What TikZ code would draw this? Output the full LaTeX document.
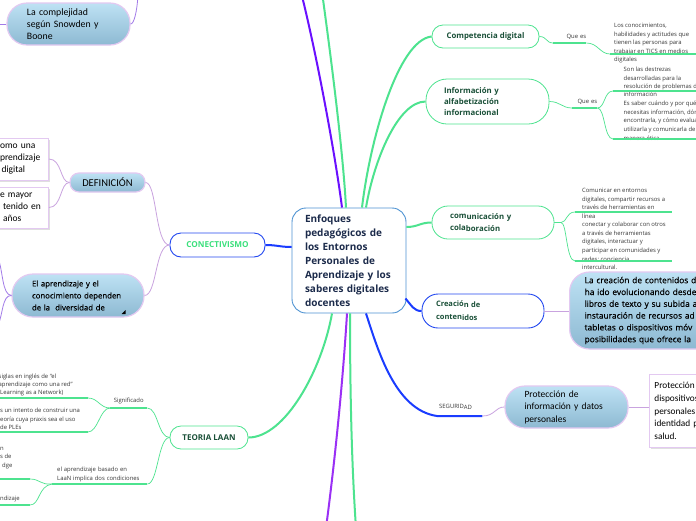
\documentclass[tikz,border=0pt]{standalone}
\usepackage{fontspec}
\setmainfont{Open Sans}
\newfontfamily\carl{Carlito}
\newfontfamily\osf[FakeBold=0.3]{Open Sans}
\usetikzlibrary{calc,shadows}
\definecolor{grn}{HTML}{4DE38F}
\definecolor{dkg}{HTML}{1A5038}
\definecolor{vio}{HTML}{6A10FF}
\definecolor{vio2}{HTML}{9A30F5}
\definecolor{blu}{HTML}{1A3CFF}
\definecolor{lpur}{HTML}{C9A3DF}
\definecolor{mpur}{HTML}{A27BE8}
\definecolor{lbord}{HTML}{E3C9F1}
\definecolor{ctb}{HTML}{4F93D2}
\definecolor{ctxt}{HTML}{1C2B4B}
\definecolor{lbtop}{HTML}{BEE2F4}
\definecolor{lbbot}{HTML}{8DB9D2}
\definecolor{tiny}{HTML}{383838}
\definecolor{cong}{HTML}{3BE07C}
\definecolor{bbord}{HTML}{2247F0}
\tikzset{
  cnode/.style={draw=ctb, line width=0.9pt, fill=white, rounded corners=14pt, text=ctxt,
    font=\bfseries\fontsize{10}{14}\selectfont, align=left, text width=88pt, inner xsep=13pt,
    minimum height=105pt},
  gnode/.style={draw=grn, line width=0.8pt, fill=white, text=dkg,
    font=\bfseries\fontsize{7.8}{11.5}\selectfont, inner ysep=0pt},
  bnode/.style={draw=bbord, line width=0.9pt, fill=white, inner ysep=0pt},
  lbnode/.style={draw=lbord, line width=1.2pt, top color=lbtop, bottom color=lbbot, text=black, inner ysep=0pt},
  wbox/.style={draw=lbord, line width=0.9pt, fill=white, text=black,
    drop shadow={shadow xshift=1.5pt, shadow yshift=-1.5pt, opacity=0.25}},
  lbl/.style={inner sep=0pt, text=tiny, font=\fontsize{5.9}{8.5}\selectfont},
  tblock/.style={inner sep=0pt, anchor=north west, align=left, text=tiny, font=\fontsize{5.9}{8.5}\selectfont},
  ulg/.style={draw=grn, line width=1.6pt},
  tg/.style={draw=grn, line width=2pt},
  tv/.style={draw=vio, line width=2pt},
  tv2/.style={draw=vio2, line width=2pt},
  tbl/.style={draw=blu, line width=2pt},
  thg/.style={draw=grn, line width=0.7pt},
  thp/.style={draw=lpur, line width=0.8pt},
  thm/.style={draw=mpur, line width=0.8pt}
}
\begin{document}
\begin{tikzpicture}[x=1pt,y={(0pt,-1pt)}]
\useasboundingbox (0,0) rectangle (696,520);
\clip (0,0) rectangle (696,520);
\fill[white] (0,0) rectangle (696,520);

% ---------- central node ----------
\node[cnode] (cen) at (349,260.5) {Enfoques\\pedagógicos de\\los Entornos\\Personales de\\Aprendizaje y los\\saberes digitales\\docentes};

% ---------- right side nodes ----------
\node[gnode, rounded corners=11pt, minimum width=107pt, minimum height=23pt] (comp) at (485.5,36.5) {Competencia digital};
\node[gnode, rounded corners=21pt, align=left, text width=87pt, inner xsep=18pt, minimum height=45pt,
  font=\bfseries\fontsize{7.8}{11}\selectfont] (info) at (487.5,101.5) {Información y\\alfabetización\\informacional};
\node[gnode, rounded corners=16pt, align=left, text width=86pt, inner xsep=18pt, minimum height=33pt,
  font=\bfseries\fontsize{7.8}{12}\selectfont] (comm) at (493,222.5) {\raisebox{1pt}{com}unicación y\\\raisebox{1pt}{cola}boración};
\node[bnode, rounded corners=16pt, align=left, text width=94pt, inner xsep=14pt, minimum height=34pt, text=dkg,
  font=\bfseries\fontsize{7.5}{13}\selectfont] (crea) at (483,311) {\raisebox{1pt}{Creació}n de\\\raisebox{1pt}{conten}idos};
\node[lbnode, rounded corners=20pt, anchor=west, minimum height=77pt, text width=190pt, inner xsep=15pt, align=left,
  font=\osf\fontsize{8.4}{11.8}\selectfont] (lc) at (569,310.5) {La creación de contenidos d\\ha ido evolucionando desde\\libros de texto y su subida a\\instauración de recursos ad\\tabletas o dispositivos móv\\posibilidades que ofrece la};
\node[lbnode, rounded corners=20pt, minimum height=42pt, text width=84pt, inner xsep=19.5pt, align=left,
  font=\carl\fontsize{9.5}{12.5}\selectfont] (prot) at (566.5,407) {Protección de\\información y datos\\personales};
\node[wbox, anchor=west, minimum height=73pt, text width=100pt, inner xsep=5pt, align=left,
  font=\carl\fontsize{9.3}{12.7}\selectfont] (pbox) at (649,411) {Protección\\dispositivos\\personales\\identidad p\\salud.};

% labels with underline
\node[lbl, anchor=south west, text width=33pt, align=right, minimum height=12pt] (qe1) at (553,43) {Que es};
\node[lbl, anchor=south west, text width=25pt, align=right, minimum height=12.6pt] (qe2) at (572,108) {Que es};
\node[lbl, anchor=south west, text width=45pt, align=left, minimum height=18pt] (seg) at (437,416) {\hspace*{2pt}SEGURID\raisebox{-1pt}{AD}};

% text blocks
\node[tblock] (cd) at (614,23) {Los conocimientos,\\habilidades y actitudes que\\tienen las personas para\\trabajar en TICS en medios\\digitales};
\node[tblock, font=\fontsize{5.9}{8.4}\selectfont] (i1) at (623.5,67) {Son las destrezas\\desarrolladas para la\\resolución de problemas de\\información};
\node[tblock, font=\fontsize{5.9}{8.6}\selectfont] (i2) at (623.5,101) {Es saber cuándo y por qué\\necesitas información, dónde\\encontrarla, y cómo evaluarla,\\utilizarla y comunicarla de\\manera ética};
\node[tblock, font=\fontsize{5.9}{8.6}\selectfont] (c1) at (582,188) {Comunicar en entornos\\digitales, compartir recursos a\\través de herramientas en\\línea};
\node[tblock, font=\fontsize{5.9}{8.6}\selectfont] (c2) at (582,222) {conectar y colaborar con otros\\a través de herramientas\\digitales, interactuar y\\participar en comunidades y\\redes; conciencia\\intercultural.};

\coordinate (cdL) at (610,54);
\coordinate (i1L) at (613,91);
\coordinate (i2L) at (613,139);
\coordinate (c1L) at (575,212);
\coordinate (c2L) at (575,261);

% ---------- left side nodes ----------
\node[bnode, rounded corners=11pt, minimum width=95pt, minimum height=24pt, text=cong,
  font=\bfseries\fontsize{8.2}{10}\selectfont] (con) at (217.5,245) {CONECTIVISMO};
\node[lbnode, rounded corners=9pt, minimum width=75pt, minimum height=19pt,
  font=\carl\fontsize{10.5}{12}\selectfont] (def) at (107.5,182.5) {DEFINICIÓN};
\node[wbox, anchor=east, minimum height=42pt, text width=46.5pt, inner xsep=2pt, align=left,
  font=\carl\fontsize{9.5}{11.7}\selectfont] (b1) at (49,159) {omo una\\prendizaje\\\hspace*{1.5pt}digital};
\node[wbox, anchor=east, minimum height=41pt, text width=46.5pt, inner xsep=2pt, align=left,
  font=\carl\fontsize{9.5}{12}\selectfont] (b2) at (49,207.5) {e mayor\\\hspace*{3pt}tenido en\\\hspace*{3pt}años};
\node[lbnode, rounded corners=21pt, minimum height=43pt, text width=92pt, inner xsep=20pt, align=left,
  font=\osf\fontsize{7.8}{12}\selectfont] (ea) at (78,295.5) {El aprendizaje y el\\conocimiento dependen\\de la\ \ diversidad de};
\fill[black] (121.5,314) -- (125.5,314) -- (125.5,310) -- cycle;
\node[lbnode, rounded corners=20pt, minimum height=42pt, text width=83pt, inner xsep=20pt, align=left,
  font=\carl\fontsize{9.8}{12}\selectfont] (lcomp) at (68.5,24) {La complejidad\\según Snowden y\\Boone};
\node[gnode, rounded corners=11pt, minimum width=78pt, minimum height=23pt,
  font=\bfseries\fontsize{8}{10}\selectfont] (teo) at (209,437.5) {TEORIA LAAN};

\node[lbl, anchor=south west, text width=37pt, align=center, minimum height=14pt] (sig) at (110,408) {Significado};
\node[lbl, anchor=south west, text width=85pt, inner xsep=5pt, align=left, minimum height=19pt,
  font=\fontsize{5.9}{9}\selectfont] (eab) at (52,484) {el aprendizaje basado en\\LaaN implica dos condiciones};
\node[tblock, font=\fontsize{5.9}{8}\selectfont] (s1) at (-1.5,374) {siglas en inglés de “el\\aprendizaje como una red”\\\hspace*{1.5pt}Learning as a Network)};
\node[tblock] (s2) at (0,408) {s un intento de construir una\\eoría cuya praxis sea el uso\\de PLEs};
\node[tblock] (e1) at (0,447) {n\\s de\\\hspace*{2pt}dge};
\node[tblock] (e2) at (0,496) {ndizaje};
\coordinate (s1R) at (88,398);
\coordinate (s2R) at (88,432);
\coordinate (e1R) at (30,479);
\coordinate (e2R) at (30,505);

% ---------- thick main connectors ----------
\draw[tv] ($(cen.north)+(-7,0)$) .. controls (336,160) and (318,60) .. (301,-8);
\draw[tg] ($(cen.north)+(-3,0)$) .. controls (343,150) and (330,50) .. (322,-8);
\draw[tg] ($(cen.north)+(13,0)$) .. controls (370,140) and (398,40) .. (comp.west);
\draw[tg] ($(cen.north)+(17,0)$) .. controls (374,160) and (398,101.5) .. (info.west);
\draw[tg] ($(cen.east)+(0,-33.5)$) .. controls (418,227) and (420,222.5) .. (comm.west);
\draw[tbl] ($(cen.east)+(-1,38)$) .. controls (412,306) and (414,311) .. (crea.west);
\draw[tbl] ($(cen.west)+(0,-13.5)$) .. controls (280,247) and (277,245) .. (con.east);
\draw[tbl] ($(cen.south)+(17,0)$) .. controls (378,350) and (395,410) .. (seg.south west) -- (seg.south east);
\draw[tg] ($(cen.south)+(-17,0)$) .. controls (322,370) and (285,437.5) .. (teo.east);
\draw[tv2] ($(cen.south)+(-2,0)$) .. controls (343,380) and (335,460) .. (326,528);
\draw[tg] ($(cen.south)+(1,0)$) .. controls (350,400) and (352,470) .. (356,528);

% ---------- underlines ----------
\draw[ulg] (qe1.south west) -- (qe1.south east);
\draw[ulg] (qe2.south west) -- (qe2.south east);
\draw[ulg] (cdL) -- (700,54);
\draw[ulg] (i1L) -- (700,91);
\draw[ulg] (i2L) -- (700,139);
\draw[ulg] (c1L) -- (672,212);
\draw[ulg] (c2L) -- (672,261);
\draw[ulg] (sig.south west) -- (sig.south east);
\draw[ulg] (eab.south west) -- (eab.south east);
\draw[ulg] (s1R) -- (-5,398);
\draw[ulg] (s2R) -- (-5,432);
\draw[ulg] (e1R) -- (-5,479);
\draw[ulg] (e2R) -- (-5,505);

% ---------- thin connectors ----------
\draw[thg] (comp.east) .. controls (547,36.5) and (546,43) .. (qe1.south west);
\draw[thg] (qe1.south east) .. controls (598,43) and (600,54) .. (cdL);
\draw[thg] (info.east) .. controls (560,101.5) and (562,108) .. (qe2.south west);
\draw[thg] (qe2.south east) .. controls (605,108) and (604,91) .. (i1L);
\draw[thg] (qe2.south east) .. controls (605,108) and (604,139) .. (i2L);
\draw[thg] (comm.east) -- (561,222.5) .. controls (567,222.5) and (566,212) .. (c1L);
\draw[thg] (comm.east) -- (561,222.5) .. controls (567,222.5) and (566,261) .. (c2L);
\draw[thg] (teo.west) .. controls (158,437.5) and (158,408) .. (sig.south east);
\draw[thg] (teo.west) .. controls (158,437.5) and (158,484) .. (eab.south east);
\draw[thg] (sig.south west) .. controls (100,408) and (98,398) .. (s1R);
\draw[thg] (sig.south west) .. controls (100,408) and (98,432) .. (s2R);
\draw[thg] (eab.south west) .. controls (40,485) and (40,479) .. (e1R);
\draw[thg] (eab.south west) .. controls (38,486) and (40,505) .. (e2R);

\draw[thp] (crea.east) -- (lc.west |- crea.east);
\draw[thp] (seg.south east) .. controls (495,416) and (495,407) .. (prot.west);
\draw[thp] (prot.east) -- (prot.east -| pbox.west);
\draw[thp] (con.west) .. controls (155,245) and (157,182.5) .. (def.east);
\draw[thp] (con.west) .. controls (155,245) and (157,295) .. (ea.east);
\draw[thp] (def.west) .. controls (60,182.5) and (62,159) .. (b1.east);
\draw[thp] (def.west) .. controls (60,182.5) and (62,207.5) .. (b2.east);
\draw[thm] (ea.west) .. controls (2,295) and (3,270) .. (-2,258);
\draw[thm] (ea.west) .. controls (2,295) and (3,315) .. (-2,325);
\draw[thm] (lcomp.west) -- (-5,24);
\draw[thm] (lcomp.east) .. controls (134,24) and (137,12) .. (138,-5);
\end{tikzpicture}
\end{document}
